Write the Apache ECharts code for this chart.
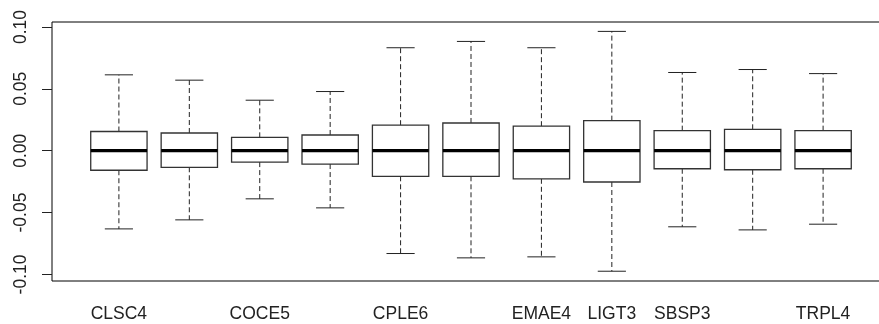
<!DOCTYPE html>
<html>
<head>
<meta charset="utf-8">
<script src="https://cdn.jsdelivr.net/npm/echarts@6/dist/echarts.min.js"></script>
<style>
  html, body { margin: 0; padding: 0; background: #fff; }
  #chart { width: 879px; height: 324px; }
</style>
</head>
<body>
<div id="chart"></div>
<script>
// Tickers along the x axis; positions without a printed name stay blank
const tickers = ['CLSC4', '', 'COCE5', '', 'CPLE6', '', 'EMAE4', 'LIGT3', 'SBSP3', '', 'TRPL4'];

// Five-number summaries of the returns, one entry per ticker
const whiskerLow    = [-0.0632, -0.0559, -0.0389, -0.0462, -0.0831, -0.0866, -0.0858, -0.0974, -0.0615, -0.0640, -0.0594];
const lowerQuartile = [-0.0158, -0.0134, -0.0092, -0.0108, -0.0207, -0.0207, -0.0227, -0.0253, -0.0146, -0.0154, -0.0146];
const medians       = [ 0.0000,  0.0000,  0.0000,  0.0000,  0.0000,  0.0000,  0.0000,  0.0000,  0.0000,  0.0000,  0.0000];
const upperQuartile = [ 0.0155,  0.0143,  0.0108,  0.0127,  0.0206,  0.0224,  0.0198,  0.0243,  0.0162,  0.0173,  0.0162];
const whiskerHigh   = [ 0.0613,  0.0570,  0.0408,  0.0478,  0.0832,  0.0883,  0.0832,  0.0964,  0.0632,  0.0656,  0.0623];

// Value-axis tick labels
const yTicks = [-0.10, -0.05, 0.00, 0.05, 0.10];

const positions = tickers.map((_, i) => i + 1);
const boxData = positions.map((p, i) => [p, whiskerLow[i], lowerQuartile[i], medians[i], upperQuartile[i], whiskerHigh[i]]);

const FONT = 'Liberation Sans, Arial, sans-serif';
const INK = '#222';

function renderBox(params, api) {
  const x = api.value(0);
  const lo = api.coord([x, api.value(1)]);
  const q1 = api.coord([x, api.value(2)]);
  const md = api.coord([x, api.value(3)]);
  const q3 = api.coord([x, api.value(4)]);
  const hi = api.coord([x, api.value(5)]);
  const cx = md[0];
  const half = api.size([0.8, 0])[0] / 2;   // box spans 0.8 of a slot
  const cap = half / 2;                      // staples are half the box width
  const dashed = { stroke: INK, lineWidth: 1, lineDash: [5, 3], fill: null };
  const solid = { stroke: INK, lineWidth: 1, fill: null };
  return {
    type: 'group',
    children: [
      { type: 'line', shape: { x1: cx, y1: q3[1], x2: cx, y2: hi[1] }, style: dashed },
      { type: 'line', shape: { x1: cx, y1: q1[1], x2: cx, y2: lo[1] }, style: dashed },
      { type: 'line', shape: { x1: cx - cap, y1: hi[1], x2: cx + cap, y2: hi[1] }, style: solid },
      { type: 'line', shape: { x1: cx - cap, y1: lo[1], x2: cx + cap, y2: lo[1] }, style: solid },
      { type: 'rect', shape: { x: cx - half, y: q3[1], width: 2 * half, height: q1[1] - q3[1] },
        style: { fill: '#fff', stroke: '#333', lineWidth: 1.3 } },
      { type: 'line', shape: { x1: cx - half, y1: md[1], x2: cx + half, y2: md[1] },
        style: { stroke: '#000', lineWidth: 3.2, fill: null } }
    ]
  };
}

const chart = echarts.init(document.getElementById('chart'), null, { renderer: 'canvas' });
chart.setOption({
  animation: false,
  backgroundColor: '#fff',
  grid: {
    left: 52, top: 22, width: 838, height: 259,
    show: true, borderColor: '#000', borderWidth: 1, backgroundColor: 'transparent',
    containLabel: false, outerBoundsMode: 'none'
  },
  xAxis: {
    type: 'value',
    min: 0.05, max: 11.95,
    axisLine: { show: false },
    splitLine: { show: false },
    axisTick: { show: true, inside: false, length: 10, customValues: positions,
                lineStyle: { color: INK, width: 1 } },
    axisLabel: {
      customValues: positions,
      margin: 24,
      formatter: v => tickers[Math.round(v) - 1] || '',
      fontFamily: FONT, fontSize: 17.5, color: INK
    }
  },
  yAxis: {
    type: 'value',
    min: -0.1053, max: 0.1040,
    axisLine: { show: false },
    splitLine: { show: false },
    axisTick: { show: true, inside: false, length: 10, customValues: yTicks,
                lineStyle: { color: INK, width: 1 } },
    axisLabel: {
      customValues: yTicks,
      rotate: 90,
      margin: 22,
      formatter: v => v.toFixed(2),
      fontFamily: FONT, fontSize: 17.5, color: INK
    }
  },
  series: [{
    type: 'custom',
    renderItem: renderBox,
    encode: { x: 0, y: [1, 2, 3, 4, 5] },
    data: boxData,
    clip: false
  }]
});
</script>
</body>
</html>
